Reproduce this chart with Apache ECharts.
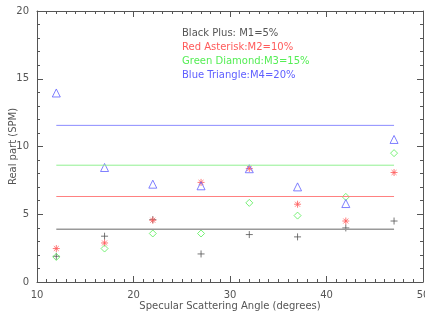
<!DOCTYPE html>
<html>
<head>
<meta charset="utf-8">
<script src="https://cdn.jsdelivr.net/npm/echarts@6/dist/echarts.min.js"></script>
<style>
  html, body { margin: 0; padding: 0; background: #fff; }
  #main { width: 425px; height: 315px; }
</style>
</head>
<body>
<div id="main"></div>
<script>
// scattering angles (degrees)
var angles = [12, 17, 22, 27, 32, 37, 42, 47];

// real part per mixture
var blackPlus = [1.9, 3.38, 4.6, 2.07, 3.5, 3.33, 3.99, 4.5];
var redAsterisk = [2.47, 2.88, 4.56, 7.35, 8.38, 5.74, 4.5, 8.08];
var greenDiamond = [1.85, 2.47, 3.58, 3.58, 5.84, 4.9, 6.28, 9.51];
var blueTriangle = [13.95, 8.45, 7.22, 7.1, 8.36, 7.02, 5.79, 10.52];

// horizontal reference levels
var lineStartEnd = [12, 47];
var levelBlack = 3.9;
var levelRed = 6.31;
var levelGreen = 8.62;
var levelBlue = 11.56;

var legendLines = [
  "Black Plus: M1=5%",
  "Red Asterisk:M2=10%",
  "Green Diamond:M3=15%",
  "Blue Triangle:M4=20%"
];

var axisGray = "#555";
var textGray = "#555";
var cBlack = "#555";
var cRed = "#ff5a5a";
var cGreen = "#55ee55";
var cBlue = "#6060ff";

var myChart = echarts.init(document.getElementById("main"));

function pts(ys) {
  return angles.map(function (a, i) { return [a, ys[i]]; });
}
function level(v) {
  return lineStartEnd.map(function (x) { return [x, v]; });
}

var font = "DejaVu Sans";

function baseAxis(extra, split) {
  var o = {
    type: "value",
    axisLine: { show: true, onZero: false, lineStyle: { color: axisGray, width: 1 } },
    axisTick: { show: true, inside: true, length: 6, lineStyle: { color: axisGray } },
    minorTick: { show: true, splitNumber: split, length: 3, lineStyle: { color: axisGray } },
    splitLine: { show: false },
    minorSplitLine: { show: false },
    axisLabel: { color: textGray, fontFamily: font, fontSize: 10, margin: 8 }
  };
  return Object.assign(o, extra);
}

var plus = "path://M0 4H8M4 0V8";
var aster = "path://M0 4H8M4 0V8M1.2 1.2L6.8 6.8M6.8 1.2L1.2 6.8";

function scat(name, ys, symbol, size, color) {
  return {
    name: name,
    type: "scatter",
    data: pts(ys),
    symbol: symbol,
    symbolSize: size,
    itemStyle: { color: "none", borderColor: color, borderWidth: 1 },
    emphasis: { disabled: true }
  };
}
function hline(v, color, w) {
  return {
    type: "line",
    data: level(v),
    symbol: "none",
    lineStyle: { color: color, width: w },
    silent: true
  };
}

myChart.setOption({
  animation: false,
  grid: { left: 37, right: 2, top: 11, bottom: 33, outerBoundsMode: "none", containLabel: false },
  xAxis: [
    baseAxis({
      min: 10, max: 50, interval: 10, position: "bottom",
      name: "Specular Scattering Angle (degrees)",
      nameLocation: "middle",
      nameGap: 19,
      nameMoveOverlap: false,
      nameTextStyle: { color: textGray, fontFamily: font, fontSize: 10 }
    }, 10),
    baseAxis({
      min: 10, max: 50, interval: 10, position: "top",
      axisLabel: { show: false }
    }, 10)
  ],
  yAxis: [
    baseAxis({
      min: 0, max: 20, interval: 5, position: "left",
      name: "Real part (SPM)",
      nameLocation: "middle",
      nameGap: 19,
      nameMoveOverlap: false,
      nameTextStyle: { color: textGray, fontFamily: font, fontSize: 10 }
    }, 5),
    baseAxis({
      min: 0, max: 20, interval: 5, position: "right",
      axisLabel: { show: false }
    }, 5)
  ],
  graphic: legendLines.map(function (t, i) {
    return {
      type: "text",
      left: 182,
      top: 28 + i * 14,
      style: {
        text: t,
        fill: [cBlack, cRed, cGreen, cBlue][i],
        font: "10px " + font
      }
    };
  }),
  series: [
    hline(levelBlack, "#999", 1.5),
    hline(levelRed, "#ff8080", 1),
    hline(levelGreen, "#90f090", 1),
    hline(levelBlue, "#8c8cff", 1),
    scat("M1", blackPlus, plus, 7, cBlack),
    scat("M2", redAsterisk, aster, 7, cRed),
    scat("M3", greenDiamond, "diamond", 7, cGreen),
    scat("M4", blueTriangle, "triangle", 8, cBlue)
  ]
});
</script>
</body>
</html>
